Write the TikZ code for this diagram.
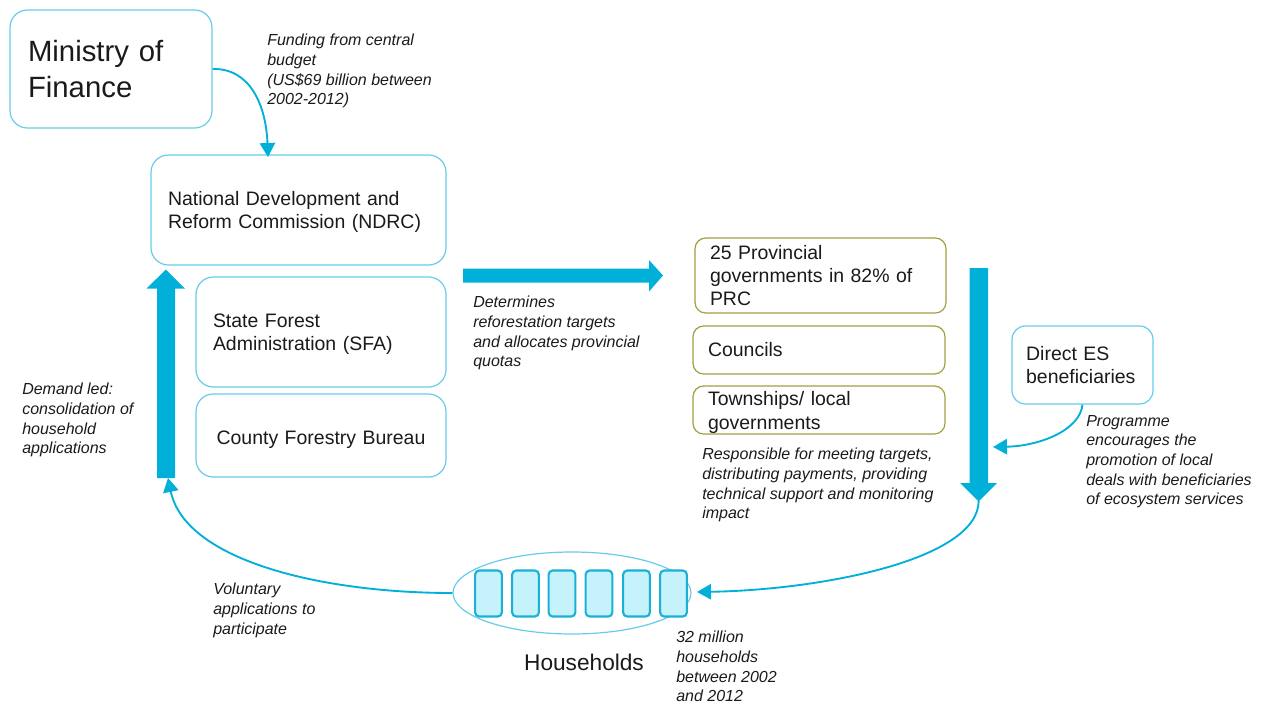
\documentclass[tikz,border=0pt]{standalone}
\usepackage{fontspec}
\setmainfont{Liberation Sans}
\usetikzlibrary{arrows.meta,calc,shapes.geometric}
\definecolor{arrowblue}{HTML}{00B0D8}
\definecolor{boxblue}{HTML}{66CCEA}
\definecolor{olive}{HTML}{A0A040}
\definecolor{hhfill}{HTML}{C6F2FB}
\definecolor{hhline}{HTML}{1BB0D8}
\definecolor{txt}{HTML}{1A1A1A}
\newcommand{\lowr}[1]{\rule{0pt}{#1}}
\begin{document}
\begin{tikzpicture}[x=0.75pt,y=-0.75pt,
  bluebox/.style={draw=boxblue,line width=0.9pt,rounded corners=13pt,inner ysep=0pt,align=left,text=txt,
     font=\fontsize{14.6}{17.4}\selectfont},
  olivebox/.style={draw=olive,line width=0.9pt,rounded corners=8pt,inner ysep=0pt,align=left,text=txt,
     font=\fontsize{14.6}{17.4}\selectfont},
  note/.style={anchor=north west,inner sep=0pt,align=left,text=txt,
     font=\fontsize{12}{14.7}\selectfont\itshape},
  thin conn/.style={draw=arrowblue,line width=1.4pt,-{Triangle[width=11.5pt,length=10.5pt]}},
  hh/.style={draw=hhline,fill=hhfill,line width=1.6pt,rounded corners=3pt,minimum width=20pt,minimum height=34.5pt,inner sep=0pt},
  bigarrow/.style={fill=arrowblue}
]
\useasboundingbox (0,0) rectangle (1265,704);

% boxes
\node[bluebox,minimum height=88.5pt,text width=124.5pt,inner xsep=13.5pt,
  font=\fontsize{22}{26.3}\selectfont] (mof) at (111,69) {Ministry of\\Finance};
\node[bluebox,minimum height=82.5pt,text width=195.75pt,inner xsep=12.75pt] (ndrc) at (298.5,210)
  {\lowr{13.6pt}National Development and\\Reform Commission (NDRC)};
\node[bluebox,minimum height=82.5pt,text width=162pt,inner xsep=12.75pt] (sfa) at (321,332)
  {\lowr{13.6pt}State Forest\\Administration (SFA)};
\node[bluebox,minimum height=62.25pt,text width=162pt,inner xsep=12.75pt,align=center] (cfb) at (321,435.5)
  {\lowr{16pt}County Forestry Bureau};
\node[olivebox,minimum height=56.25pt,text width=165.75pt,inner xsep=11.25pt] (prov) at (820.5,275.5)
  {25 Provincial\\governments in 82\% of\\PRC};
\node[olivebox,minimum height=36pt,text width=166.5pt,inner xsep=11.25pt] (coun) at (819,350)
  {Councils};
\node[olivebox,minimum height=36pt,text width=166.5pt,inner xsep=11.25pt] (town) at (819,410)
  {\lowr{14.2pt}Townships/ local\\governments};
\node[bluebox,minimum height=58.5pt,text width=84.5pt,inner xsep=10.6pt,rounded corners=10pt] (des) at (1082.5,365)
  {Direct ES\\beneficiaries};

% households
\node[draw=boxblue,line width=0.9pt,ellipse,minimum width=178.5pt,minimum height=61.5pt,inner sep=0pt] (ell) at (572,593) {};
\foreach \i/\x in {1/488.5,2/525.5,3/562,4/599,5/636.5,6/673.5}
  \node[hh] (h\i) at (\x,593.5) {};
\node[anchor=center,inner sep=0pt,text=txt,font=\fontsize{17}{20}\selectfont] (hlab) at (584,662) {Households};

% big arrows
\fill[bigarrow] (463,268.5) -- (649,268.5) -- (649,260) -- (663,275.5) -- (649,291.5) -- (649,282.5) -- (463,282.5) -- cycle;
\fill[bigarrow] (969.5,268) -- (988,268) -- (988,483) -- (997,483) -- (978.7,501.5) -- (960,483) -- (969.5,483) -- cycle;
\fill[bigarrow] (157,478) -- (175,478) -- (175,288.5) -- (185,288.5) -- (166,269.5) -- (146.5,288.5) -- (157,288.5) -- cycle;

% named ends
\coordinate (finend) at (268,157);
\coordinate (downtip) at (978.7,501);
\coordinate (hhend) at (697,592);
\coordinate (upfoot) at (168,478);
\coordinate (desend) at (993,447);

% connectors
\draw[thin conn] (mof.east) .. controls (250,68) and (266,105) .. (finend);
\draw[thin conn] (downtip) .. controls (978,560) and (820,590) .. (hhend);
\draw[thin conn] (ell.west) .. controls (320,593) and (185,560) .. (upfoot);
\draw[thin conn] (des.south) .. controls (1080,430) and (1040,446) .. (desend);

% notes
\node[note] (n1) at (267,34) {Funding from central\\budget\\(US\$69 billion between\\2002-2012)};
\node[note] (n2) at (473,296) {Determines\\reforestation targets\\and allocates provincial\\quotas};
\node[note] (n3) at (22,383) {Demand led:\\consolidation of\\household\\applications};
\node[note] (n4) at (213,583) {Voluntary\\applications to\\participate};
\node[note] (n5) at (702,448) {Responsible for meeting targets,\\distributing payments, providing\\technical support and monitoring\\impact};
\node[note] (n6) at (1086,415) {Programme\\encourages the\\promotion of local\\deals with beneficiaries\\of ecosystem services};
\node[note] (n7) at (676,631) {32 million\\households\\between 2002\\and 2012};
\end{tikzpicture}
\end{document}
